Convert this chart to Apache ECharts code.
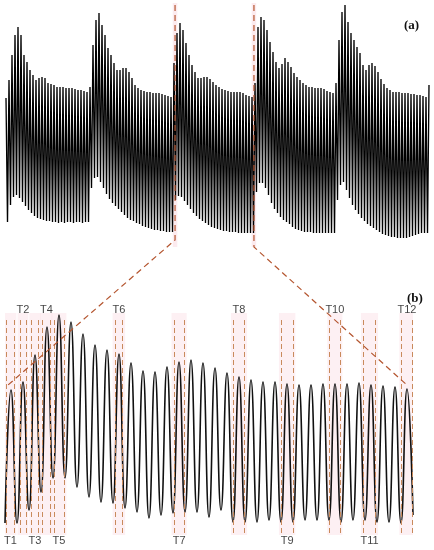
<!DOCTYPE html>
<html>
<head>
<meta charset="UTF-8">
<title>Oscillation bursts (a) and zoomed burst (b)</title>
<script src="https://cdn.jsdelivr.net/npm/echarts@6.0.0/dist/echarts.min.js"></script>
</head>
<body style="margin:0;background:#fff;">
<div id="container" style="width:434px;height:550px;"></div>
<script>
// (a) peak / trough amplitude per cycle, five bursts
var aPeaks = [
  152,170,195,215,223,215,195,188,180,175,170,172,173,172,167,166,165,163,163,163,162,162,162,161,160,160,159,158,
  163,205,230,237,225,215,202,195,187,180,180,182,182,178,172,165,162,160,159,158,158,157,157,157,156,155,154,153,
  187,217,227,220,207,195,185,178,172,172,173,173,171,168,165,163,161,160,159,158,158,158,158,157,155,154,153,
  167,223,233,230,220,208,198,188,182,186,192,188,183,177,173,170,167,165,163,163,162,162,162,161,159,158,157,
  167,210,238,245,228,217,210,203,197,185,180,185,187,184,178,171,166,162,160,158,158,158,157,157,157,156,156,155,155,154,153,
  165
];
var aTroughs = [
  28,45,53,55,52,48,44,40,37,34,32,31,30,29,29,28,28,27,28,27,28,28,27,28,28,27,28,28,
  62,72,73,68,62,56,51,47,44,41,38,35,32,30,29,27,26,24,23,22,21,20,20,19,19,18,18,18,
  50,54,53,49,45,41,37,34,31,29,27,25,23,22,21,20,19,19,18,18,18,17,17,17,17,17,17,
  58,67,67,62,55,47,41,37,33,30,28,26,23,21,20,19,18,18,18,17,17,17,17,17,17,17,17,
  50,65,68,60,52,45,40,36,32,29,26,24,22,20,18,16,15,14,13,13,12,12,12,12,13,14,15,16,17,17,17
];
// zoomed window inside (a), in half-cycle units
var zoomFrom = 112.7;
var zoomTo = 165.3;

// (b) one burst, peak and trough per cycle
var bPeaks = [140,148,175,203,215,208,196,185,180,176,167,159,158,163,168,170,167,162,157,153,150,148,148,146,145,145,146,146,146,147,145,144,143,141];
var bTroughs = [7,7,20,38,52,52,43,33,28,27,22,18,12,15,17,18,18,13,20,8,8,8,10,8,8,10,10,10,8,10,10,8,8,7,15];

// marked intervals in (b), in cycles
var tNames = ['T1','T2','T3','T4','T5','T6','T7','T8','T9','T10','T11','T12'];
var tStart = [0.14,1.25,2.22,3.14,4.08,9.17,14.08,19.03,23.03,27.06,29.86,33.06];
var tEnd   = [0.75,1.75,2.78,3.75,4.92,9.81,14.94,19.97,24.00,27.92,30.89,33.94];

var dom = document.getElementById('container');
var myChart = echarts.init(dom, null, {renderer: 'canvas'});

var aData = [];
for (var k = 0; k < aPeaks.length; k++) {
  aData.push([2 * k, aPeaks[k]]);
  if (k < aTroughs.length) aData.push([2 * k + 1, aTroughs[k]]);
}
var bData = [];
for (var j = 0; j < bTroughs.length; j++) {
  bData.push([j, bTroughs[j]]);
  if (j < bPeaks.length) bData.push([j + 0.5, bPeaks[j]]);
}

var markColor = '#c98a5c';
var lines = [], areas = [], labels = [];
for (var t = 0; t < tNames.length; t++) {
  [tStart[t], tEnd[t]].forEach(function (x) {
    lines.push([{coord: [x, -3]}, {coord: [x, 213]}]);
  });
  areas.push([{coord: [tStart[t] - 0.2, 217]}, {coord: [tEnd[t] + 0.2, -5]}]);
  labels.push([(tStart[t] + tEnd[t]) / 2, t % 2 === 0 ? -11 : 220, tNames[t]]);
}

var option = {
  animation: false,
  grid: [
    {left: 6, width: 423, top: 0, height: 250},
    {left: 5, width: 408, top: 295, height: 250}
  ],
  xAxis: [
    {gridIndex: 0, type: 'value', min: 0, max: 2 * (aPeaks.length - 1), show: false},
    {gridIndex: 1, type: 'value', min: 0, max: 34, show: false}
  ],
  yAxis: [
    {gridIndex: 0, type: 'value', min: 0, max: 250, show: false},
    {gridIndex: 1, type: 'value', min: -15, max: 235, show: false}
  ],
  series: [
    {
      type: 'line',
      xAxisIndex: 0, yAxisIndex: 0,
      data: aData,
      showSymbol: false,
      lineStyle: {color: '#000', width: 1.35},
      silent: true,
      z: 3,
      markArea: {
        silent: true,
        itemStyle: {color: 'rgba(248,205,214,0.4)'},
        data: [
          [{coord: [zoomFrom - 1.5, 247]}, {coord: [zoomFrom + 1.5, 3]}],
          [{coord: [zoomTo - 1.5, 247]}, {coord: [zoomTo + 1.5, 3]}]
        ]
      }
    },
    {
      type: 'line',
      xAxisIndex: 1, yAxisIndex: 1,
      data: bData,
      smooth: true,
      showSymbol: false,
      lineStyle: {color: '#111', width: 1.6},
      silent: true,
      z: 3,
      markArea: {
        silent: true,
        itemStyle: {color: 'rgba(248,205,214,0.3)'},
        data: areas
      },
      markLine: {
        silent: true,
        symbol: 'none',
        label: {show: false},
        lineStyle: {color: markColor, type: [5, 3], width: 1},
        data: lines
      }
    },
    {
      type: 'scatter',
      xAxisIndex: 1, yAxisIndex: 1,
      data: labels,
      symbolSize: 0,
      clip: false,
      silent: true,
      label: {
        show: true,
        position: [0, 0],
        align: 'center',
        verticalAlign: 'middle',
        fontFamily: 'Liberation Sans',
        fontSize: 11,
        color: '#111',
        formatter: function (p) { return p.data[2]; }
      }
    }
  ]
};
myChart.setOption(option);

// connector lines between the window in (a) and the burst in (b)
var aTopL = myChart.convertToPixel({xAxisIndex: 0, yAxisIndex: 0}, [zoomFrom, 245]);
var aBotL = myChart.convertToPixel({xAxisIndex: 0, yAxisIndex: 0}, [zoomFrom, 10]);
var aTopR = myChart.convertToPixel({xAxisIndex: 0, yAxisIndex: 0}, [zoomTo, 245]);
var aBotR = myChart.convertToPixel({xAxisIndex: 0, yAxisIndex: 0}, [zoomTo, 3]);
var bL = myChart.convertToPixel({xAxisIndex: 1, yAxisIndex: 1}, [0.25, 145]);
var bR = myChart.convertToPixel({xAxisIndex: 1, yAxisIndex: 1}, [33.4, 146]);
var connStyle = {stroke: '#b4552f', fill: null, lineWidth: 1.2, lineDash: [6, 4]};

myChart.setOption({
  graphic: [
    {type: 'polyline', z: 10, shape: {points: [aTopL, aBotL, bL]}, style: connStyle},
    {type: 'polyline', z: 10, shape: {points: [aTopR, aBotR, bR]}, style: connStyle},
    {type: 'text', left: 404, top: 19, style: {text: '(a)', font: 'bold 13px "Liberation Serif"', fill: '#111'}},
    {type: 'text', left: 407, top: 292, style: {text: '(b)', font: 'bold 13px "Liberation Serif"', fill: '#111'}}
  ]
});
</script>
</body>
</html>
